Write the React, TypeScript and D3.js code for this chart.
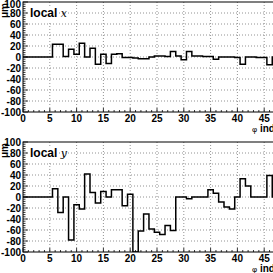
import * as d3 from 'd3';

// bins are centred on integer phi index (0..47)
const phiIndex = d3.range(0, 48);
const localX = [
  0, 0, 0, 0, 0, 0, 23, 23, 1, 14, 5, 25, 0, 16, -13, 5, -12, 5, 6, -1,
  -1, -2, -3, -3, 0, 2, 2, 1, 10, 2, -5, 10, 2, 2, 1, 1, -4, 0, 0, 0,
  -1, -13, 0, 0, -1, -1, -14, 0,
];
const localY = [
  0, 0, 0, 0, 0, 0, 15, -28, 0, -78, -14, -22, 42, 8, -11, 10, 0, 13, 13, -16,
  5, -100, -62, -31, -58, -64, -68, -52, -61, 0, 0, -3, 0, 0, 0, 13, 7, -9, -18, -22,
  0, 33, 20, 0, 0, 0, 39, 0,
];
const yTicks = [-100, -80, -60, -40, -20, 0, 20, 40, 60, 80, 100];
const xTicks = [0, 5, 10, 15, 20, 25, 30, 35, 40, 45];

const W = 273;
const H = 273;
const LEFT = 23;
const PX_PER_BIN = 5.36;
const FONT = "'Liberation Sans Narrow', 'Liberation Sans', Arial, sans-serif";

type PanelProps = { top: number; values: number[]; name: string; id: string };

const Panel = ({ top, values, name, id }: PanelProps) => {
  const xMax = 50;
  const xScale = d3.scaleLinear().domain([0, xMax]).range([LEFT, LEFT + xMax * PX_PER_BIN]);
  const yScale = d3.scaleLinear().domain([-100, 100]).range([top + 110, top]);
  const [x0, x1] = xScale.range();
  const [yb, yt] = yScale.range();

  // histogram outline as step line
  const pts: [number, number][] = phiIndex.map((p, i) => [p - 0.5, values[i]]);
  pts.push([phiIndex[phiIndex.length - 1] + 0.5, values[values.length - 1]]);
  const line = d3
    .line<[number, number]>()
    .x((d) => xScale(d[0]))
    .y((d) => yScale(d[1]))
    .curve(d3.curveStepAfter);

  const minorY = d3.range(-100, 101, 4);
  const minorX = d3.range(0, xMax + 1, 1);

  return (
    <g>
      <clipPath id={id}>
        <rect x={x0} y={yt} width={x1 - x0} height={yb - yt} />
      </clipPath>
      {/* grid */}
      {xTicks.filter((t) => t > 0).map((t) => (
        <line key={'gx' + t} x1={xScale(t)} x2={xScale(t)} y1={yt} y2={yb}
          stroke="#777" strokeWidth={0.8} strokeDasharray="1,2" />
      ))}
      {yTicks.filter((t) => t > -100 && t < 100).map((t) => (
        <line key={'gy' + t} x1={x0} x2={x1} y1={yScale(t)} y2={yScale(t)}
          stroke="#777" strokeWidth={0.8} strokeDasharray="1,2" />
      ))}
      <path d={line(pts) || ''} fill="none" stroke="#000" strokeWidth={1.5} clipPath={`url(#${id})`} />
      {/* label box */}
      <rect x={28} y={top + 4} width={31} height={15} fill="#fff" />
      <text x={30} y={top + 15} fontFamily={FONT} fontWeight="bold" fontSize={12}>
        local <tspan fontFamily="'DejaVu Serif', 'Liberation Serif', serif" fontStyle="italic" fontWeight="normal" fontSize={11}>{name}</tspan>
      </text>
      {/* frame */}
      <rect x={x0} y={yt} width={x1 - x0} height={yb - yt} fill="none" stroke="#000" strokeWidth={1} />
      {/* y ticks */}
      {minorY.map((t) => (
        <line key={'my' + t} x1={x0} x2={x0 + (t % 20 === 0 ? 5 : 2.5)} y1={yScale(t)} y2={yScale(t)} stroke="#000" strokeWidth={0.8} />
      ))}
      {yTicks.map((t) => (
        <text key={'ty' + t} x={x0 - 2} y={Math.max(yScale(t) + 3.5, 7.5)} textAnchor="end"
          fontFamily={FONT} fontWeight="bold" fontSize={10}>{t}</text>
      ))}
      {/* x ticks */}
      {minorX.map((t) => (
        <line key={'mx' + t} x1={xScale(t)} x2={xScale(t)} y1={yb} y2={yb - (t % 5 === 0 ? 4 : 2)} stroke="#000" strokeWidth={0.8} />
      ))}
      {xTicks.map((t) => (
        <text key={'tx' + t} x={xScale(t)} y={yb + 10} textAnchor="middle"
          fontFamily={FONT} fontWeight="bold" fontSize={10}>{t}</text>
      ))}
      <text x={8} y={top + 1} transform={`rotate(-90 8 ${top + 1})`} textAnchor="end"
        fontFamily={FONT} fontWeight="bold" fontSize={10}>μm</text>
      <text x={252} y={yb + 20} fontFamily={FONT} fontWeight="bold" fontSize={10}>
        <tspan fontSize={8} fontWeight="normal">φ</tspan> index
      </text>
    </g>
  );
};

const App = () => {
  return (
    <div style={{ position: 'absolute', left: 0, top: 0, width: W, height: H, overflow: 'hidden', background: '#fff' }}>
      <svg width={W} height={H} style={{ display: 'block' }}>
        <rect width={W} height={H} fill="#fff" />
        <Panel top={2} values={localX} name="x" id="clipTop" />
        <Panel top={142} values={localY} name="y" id="clipBottom" />
      </svg>
    </div>
  );
};

export default App;
